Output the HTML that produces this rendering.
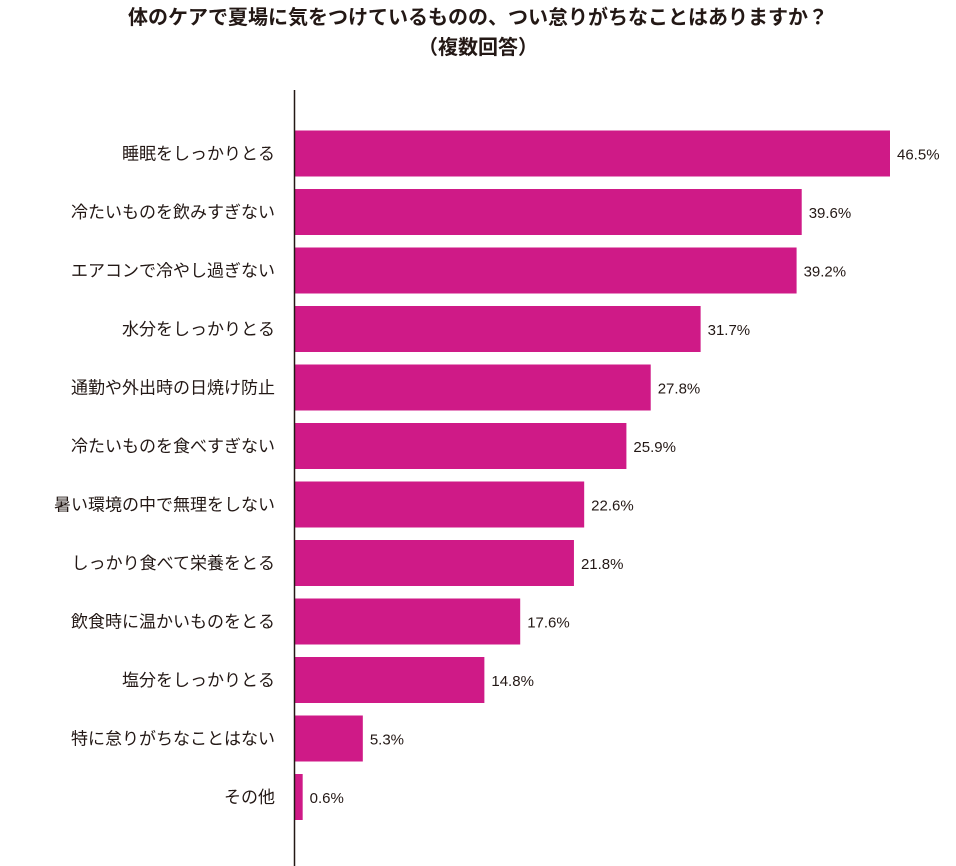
<!DOCTYPE html>
<html><head><meta charset="utf-8">
<style>
html,body{margin:0;padding:0;background:#fff;}
body{width:956px;height:866px;position:relative;overflow:hidden;font-family:"Liberation Sans","Noto Sans CJK JP",sans-serif;color:#231815;}
.title{position:absolute;left:0;width:956px;text-align:center;font-weight:bold;font-size:20px;line-height:30px;top:3px;}
</style></head>
<body>
<div class="title">体のケアで夏場に気をつけているものの、つい怠りがちなことはありますか？<br>（複数回答）</div>
<svg id="chart" width="956" height="866" style="position:absolute;left:0;top:0"></svg>
<script>
const categories=["睡眠をしっかりとる","冷たいものを飲みすぎない","エアコンで冷やし過ぎない","水分をしっかりとる","通勤や外出時の日焼け防止","冷たいものを食べすぎない","暑い環境の中で無理をしない","しっかり食べて栄養をとる","飲食時に温かいものをとる","塩分をしっかりとる","特に怠りがちなことはない","その他"];
const values=[46.5,39.6,39.2,31.7,27.8,25.9,22.6,21.8,17.6,14.8,5.3,0.6];
const valueLabels=["46.5%","39.6%","39.2%","31.7%","27.8%","25.9%","22.6%","21.8%","17.6%","14.8%","5.3%","0.6%"];
const NS="http://www.w3.org/2000/svg";
const svg=document.getElementById('chart');
const x0=295, pxPer=(890-295)/46.5;
const xScale=v=>x0+v*pxPer;
const yCenter=i=>153.5+i*58.5;
const barH=46;
function mk(tag,attrs){const e=document.createElementNS(NS,tag);for(const k in attrs)e.setAttribute(k,attrs[k]);svg.appendChild(e);return e;}
categories.forEach((c,i)=>{
  const r=mk('rect',{x:x0,y:yCenter(i)-barH/2,width:xScale(values[i])-x0,height:barH,fill:'#cf1a87'});
  
  
  const t=mk('text',{x:275,y:yCenter(i)+6,'text-anchor':'end','font-size':'17','fill':'#231815'});
  t.textContent=c;
  
  
  const v=mk('text',{x:xScale(values[i])+7,y:yCenter(i)+6,'font-size':'15','fill':'#231815'});
  v.textContent=valueLabels[i];
  
  
});
const ax=mk('line',{x1:294.5,y1:90,x2:294.5,y2:866,stroke:'#231815','stroke-width':1.5});


</script>
</body></html>
